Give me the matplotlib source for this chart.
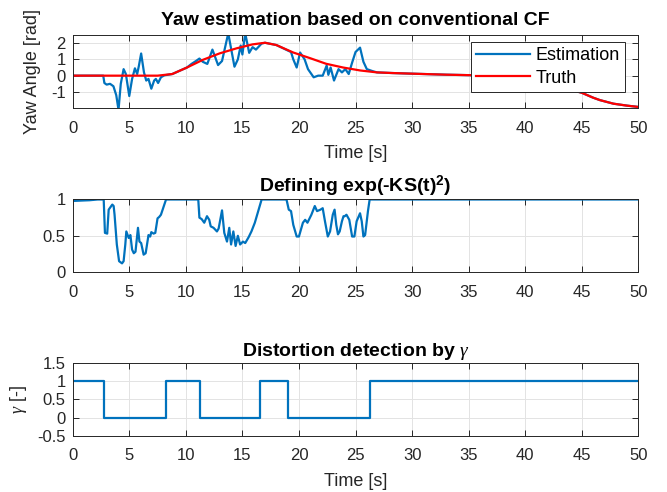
import numpy as np
import matplotlib
matplotlib.use('Agg')
import matplotlib.pyplot as plt
from matplotlib.ticker import FormatStrFormatter

plt.rcParams['font.family'] = ['Liberation Sans', 'DejaVu Sans']
plt.rcParams['mathtext.fontset'] = 'custom'
plt.rcParams['mathtext.rm'] = 'Liberation Sans'
plt.rcParams['mathtext.it'] = 'Liberation Serif:italic'
plt.rcParams['mathtext.bf'] = 'Liberation Sans:bold'
plt.rcParams['axes.unicode_minus'] = False

##### data ##########################################
# truth yaw [rad]
truth_t = [0, 7.5, 8.8, 10.1, 11.5, 13, 14.5, 15.9, 17, 18, 19.5, 21, 22.4, 23.9,
           25.4, 26.9, 28.3, 30.1, 33, 35.1, 37, 38, 39, 40, 41, 42, 43, 44, 45,
           45.5, 46, 46.6, 47.8, 49, 50]
truth_v = [0, 0, 0.1, 0.5, 0.97, 1.37, 1.68, 1.92, 2.02, 1.88, 1.42, 1.07, 0.73, 0.5,
           0.32, 0.2, 0.16, 0.12, 0.06, 0.03, -0.03, -0.1, -0.2, -0.3, -0.42, -0.55,
           -0.7, -0.86, -1.05, -1.2, -1.35, -1.5, -1.72, -1.84, -1.92]

# estimation (conventional CF)
est_t = [0, 2.7, 2.8, 3.0, 3.3, 3.6, 3.85, 4.05, 4.25, 4.5, 4.7, 5.0, 5.25, 5.5, 5.7,
         5.85, 6.05, 6.3, 6.5, 6.7, 6.95, 7.2, 7.35, 7.55, 7.8, 8.1, 8.8, 10.1,
         10.5, 10.9, 11.2, 11.5, 11.9, 12.35, 12.85, 13.2, 13.75, 14.3, 14.6, 14.85,
         15.0, 15.25, 15.6, 15.9, 16.2, 16.7, 17, 18, 19.3,
         19.5, 19.8, 20.1, 20.5, 20.8, 21.3, 21.7, 22.1, 22.45, 22.6, 22.8, 23.1,
         23.5, 23.8, 24.1, 24.4, 24.7, 25.0, 25.4, 25.7, 26.0, 26.5,
         26.9, 28.3, 30.1, 33, 35.1, 37, 38, 39, 40, 41, 42, 43, 44, 45,
         45.5, 46, 46.6, 47.8, 49, 50]
est_v = [0, 0, -0.45, -0.55, -0.5, -0.65, -1.2, -2.1, -0.5, 0.4, 0.1, -1.25, -0.2, 0.45, 0.1,
         0.6, 1.36, 0.2, -0.3, -0.2, -0.8, -0.3, -0.2, -0.45, -0.1, 0.02, 0.1, 0.5,
         0.72, 0.9, 1.05, 0.85, 0.72, 1.6, 0.65, 0.9, 2.6, 0.55, 1.0, 1.85,
         1.3, 2.6, 1.4, 1.75, 1.6, 1.97, 2.02, 1.88, 1.45,
         1.0, 0.5, 1.42, 1.0, 0.4, -0.1, 0.0, 0.0, 0.62, 0.05, 0.5, -0.3,
         0.4, 0.2, 0.4, 0.1, 0.8, 1.45, 1.72, 0.85, 0.4, 0.28,
         0.2, 0.16, 0.12, 0.06, 0.03, -0.03, -0.1, -0.2, -0.3, -0.42, -0.55, -0.7, -0.86, -1.05,
         -1.2, -1.35, -1.5, -1.72, -1.84, -1.92]

# exp(-KS(t)^2)
ks_t = [0, 1.5, 2.2, 2.74, 2.85, 3.05, 3.18, 3.5, 3.62, 3.7, 3.9, 4.1, 4.36, 4.5, 4.65,
        4.74, 4.95, 5.1, 5.25, 5.4, 5.55, 5.77, 5.9, 6.05, 6.27, 6.45, 6.7, 6.85, 6.95,
        7.15, 7.3, 7.5, 7.65, 7.8, 7.95, 8.25, 11.1,
        11.2, 11.4, 11.63, 11.87, 12.07, 12.2, 12.45, 12.75, 12.9, 13.2, 13.4, 13.64,
        13.84, 14.0, 14.2, 14.4, 14.6, 14.8, 15.05, 15.25, 15.55, 15.8, 16.1, 16.4,
        16.7, 18.9, 19.1, 19.3, 19.5, 19.8, 20.0, 20.35, 20.55, 20.75, 21.1, 21.4,
        21.6, 21.9, 22.1, 22.3, 22.55, 22.75, 22.99, 23.15, 23.3, 23.45, 23.6, 23.8,
        23.94, 24.05, 24.2, 24.45, 24.7, 24.9, 25.1, 25.4, 25.55, 25.7, 25.85, 26.1,
        26.25, 30, 35, 40, 45, 50]
ks_v = [0.98, 0.99, 1.0, 1.0, 0.54, 0.53, 0.86, 0.93, 0.91, 0.79, 0.38, 0.15, 0.12, 0.15, 0.38,
        0.56, 0.47, 0.51, 0.31, 0.26, 0.28, 0.61, 0.42, 0.4, 0.24, 0.26, 0.51, 0.49, 0.55,
        0.53, 0.54, 0.74, 0.76, 0.79, 0.86, 1.0, 1.0,
        0.75, 0.73, 0.68, 0.77, 0.72, 0.63, 0.61, 0.56, 0.6, 0.85, 0.54, 0.42,
        0.61, 0.38, 0.56, 0.36, 0.5, 0.38, 0.42, 0.4, 0.48, 0.56, 0.68, 0.84,
        1.0, 1.0, 0.86, 0.84, 0.65, 0.49, 0.49, 0.68, 0.72, 0.68, 0.79, 0.91,
        0.84, 0.86, 0.88, 0.7, 0.49, 0.56, 0.79, 0.86, 0.65, 0.52, 0.56, 0.7,
        0.77, 0.77, 0.79, 0.72, 0.49, 0.49, 0.7, 0.81, 0.7, 0.49, 0.51, 0.84,
        1.0, 1.0, 1.0, 1.0, 1.0, 1.0]

# gamma switching
gam_t = [0, 2.78, 8.27, 11.28, 16.58, 19.06, 26.28, 50]
gam_v = [1, 0, 1, 0, 1, 0, 1, 1]

##### style #########################################
c_blue = '#0072BD'
c_red = '#FF0000'
c_ax = '#262626'
fs_tick = 12
fs_lab = 13
fs_tit = 14

def style_ax(ax):
    ax.set_xlim(0, 50)
    ax.set_xticks(np.arange(0, 51, 5))
    ax.grid(True, color='#e3e3e3', linewidth=0.7)
    ax.set_axisbelow(True)
    ax.tick_params(direction='in', top=True, right=True, labelsize=fs_tick,
                   colors=c_ax, length=4, width=0.7)
    ax.tick_params(axis='x', pad=9)
    ax.tick_params(axis='y', pad=5)
    for s in ax.spines.values():
        s.set_color(c_ax)
        s.set_linewidth(0.7)
    ax.yaxis.set_major_formatter(FormatStrFormatter('%g'))

fig = plt.figure(figsize=(6.67, 4.92), dpi=100)
ax1 = fig.add_axes([0.109, 0.780, 0.848, 0.149])
ax2 = fig.add_axes([0.109, 0.447, 0.848, 0.149])
ax3 = fig.add_axes([0.109, 0.114, 0.848, 0.149])

######## panel 1 ########
ax1.plot(est_t, est_v, color=c_blue, lw=1.6, label='Estimation')
ax1.plot(truth_t, truth_v, color=c_red, lw=1.6, label='Truth')
style_ax(ax1)
ax1.set_ylim(-2, 2.5)
ax1.set_yticks([-1, 0, 1, 2])
ax1.set_title('Yaw estimation based on conventional CF', fontsize=fs_tit,
              fontweight='bold', pad=7)
ax1.set_xlabel('Time [s]', fontsize=fs_lab, color=c_ax, labelpad=7)
ax1.set_ylabel('Yaw Angle [rad]', fontsize=fs_lab, color=c_ax, labelpad=7)
leg = ax1.legend(loc='upper right', bbox_to_anchor=(0.977, 0.905),
                 fontsize=fs_lab, fancybox=False,
                 framealpha=1, edgecolor=c_ax, handlelength=3.0,
                 borderpad=0.3, labelspacing=0.3, handletextpad=0.3,
                 borderaxespad=0)
leg.get_frame().set_linewidth(0.7)

######## panel 2 ########
ax2.plot(ks_t, ks_v, color=c_blue, lw=1.6)
style_ax(ax2)
ax2.set_ylim(0, 1.01)
ax2.set_yticks([0, 0.5, 1])
ax2.set_title(r'Defining exp(-KS(t)$^{\mathbf{2}}$)', fontsize=fs_tit,
              fontweight='bold', pad=5)

######## panel 3 ########
ax3.plot(gam_t, gam_v, color=c_blue, lw=1.6, drawstyle='steps-post')
style_ax(ax3)
ax3.set_ylim(-0.5, 1.5)
ax3.set_yticks([-0.5, 0, 0.5, 1, 1.5])
ax3.set_title(r'Distortion detection by $\gamma$', fontsize=fs_tit,
              fontweight='bold', pad=5)
ax3.set_xlabel('Time [s]', fontsize=fs_lab, color=c_ax, labelpad=7)
ax3.set_ylabel(r'$\gamma$ [-]', fontsize=fs_lab, color=c_ax, labelpad=6)

fig.savefig('out.png', dpi=100)
